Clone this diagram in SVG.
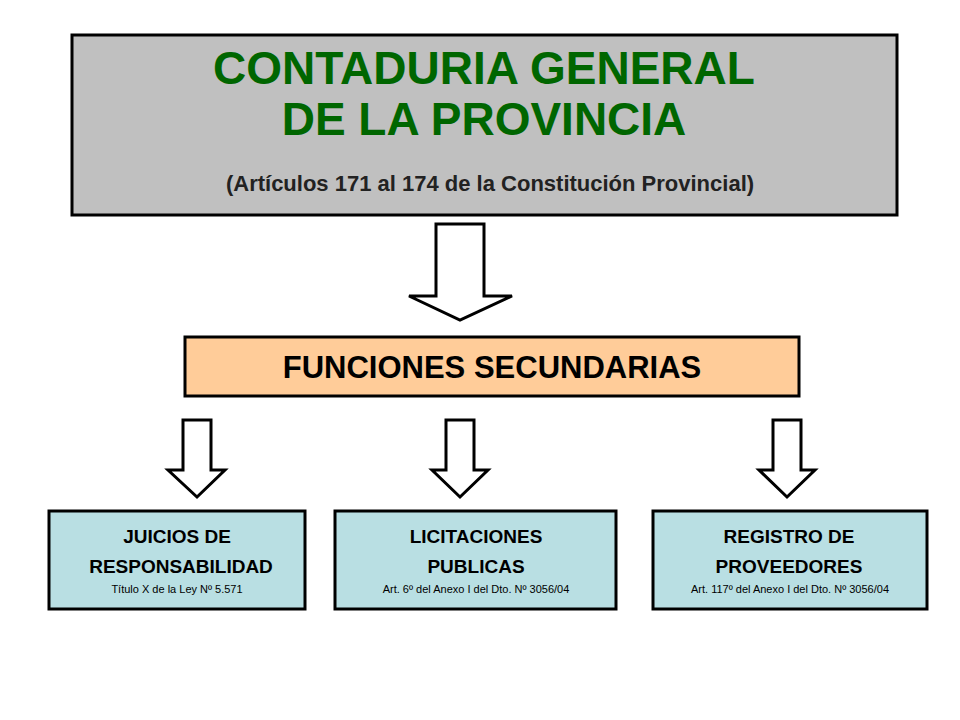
<svg xmlns="http://www.w3.org/2000/svg" width="960" height="720" viewBox="0 0 960 720">
<style>
.b{stroke:#000;stroke-width:3}
.a{fill:#fff;stroke:#000;stroke-width:3;stroke-linejoin:miter}
text{font-family:"Liberation Sans",Arial,sans-serif;font-weight:bold;text-anchor:middle}
.g{fill:#006600;font-size:46px}
.t{font-size:19px}
.s{font-size:11px;font-weight:normal}
</style>
<rect width="960" height="720" fill="#fff"/>
<g id="contaduria">
<rect class="b" x="72" y="35" width="825" height="180" fill="#c0c0c0"/>
<text class="g" x="484" y="84">CONTADURIA GENERAL</text>
<text class="g" x="484" y="135">DE LA PROVINCIA</text>
<text x="490" y="191" font-size="22" fill="#222">(Artículos 171 al 174 de la Constitución Provincial)</text>
</g>
<g id="funciones">
<rect class="b" x="185" y="337" width="614" height="59" fill="#ffcc99"/>
<text x="492" y="378" font-size="31">FUNCIONES SECUNDARIAS</text>
</g>
<g id="connectors">
<path class="a" d="M436,224 H484 V296 H512 L460,320 L409,296 H436 Z"/>
<path class="a" d="M183,420 H211 V470 H225 L197,497 L168,470 H183 Z"/>
<path class="a" d="M446,420 H474 V470 H488 L460,497 L432,470 H446 Z"/>
<path class="a" d="M773,420 H801 V470 H815 L787,497 L759,470 H773 Z"/>
</g>
<g id="juicios">
<rect class="b" x="49" y="511" width="256" height="98" fill="#b9dfe3"/>
<text class="t" x="177" y="543">JUICIOS DE</text>
<text class="t" x="181" y="573">RESPONSABILIDAD</text>
<text class="s" x="177" y="593" font-weight="bold">Título X de la Ley Nº 5.571</text>
</g>
<g id="licitaciones">
<rect class="b" x="335" y="511" width="281" height="98" fill="#b9dfe3"/>
<text class="t" x="476" y="543">LICITACIONES</text>
<text class="t" x="476" y="573">PUBLICAS</text>
<text class="s" x="476" y="593">Art. 6º del Anexo I del Dto. Nº 3056/04</text>
</g>
<g id="registro">
<rect class="b" x="653" y="511" width="274" height="98" fill="#b9dfe3"/>
<text class="t" x="789" y="543">REGISTRO DE</text>
<text class="t" x="789" y="573">PROVEEDORES</text>
<text class="s" x="790" y="593">Art. 117º del Anexo I del Dto. Nº 3056/04</text>
</g>
</svg>
